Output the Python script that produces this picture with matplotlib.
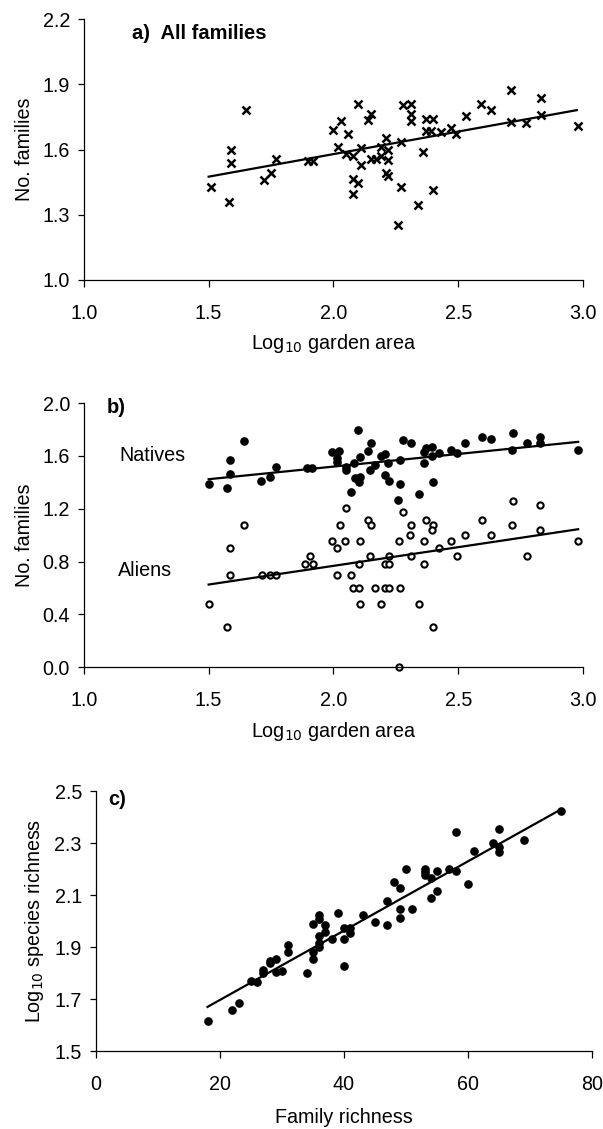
import numpy as np
import matplotlib
matplotlib.use("Agg")
import matplotlib.pyplot as plt
from matplotlib.ticker import FormatStrFormatter

plt.rcParams['font.family'] = ['Liberation Sans', 'DejaVu Sans']

# a) all families vs log10 garden area
area_a = [1.51, 1.58, 1.59, 1.59, 1.65, 1.72, 1.75, 1.77, 1.90, 1.92,
          2.00, 2.03, 2.06, 2.02, 2.05, 2.08, 2.08, 2.08, 2.10, 2.11,
          2.11, 2.10, 2.14, 2.15, 2.15, 2.17, 2.19, 2.19, 2.21, 2.21,
          2.22, 2.22, 2.22, 2.27, 2.27, 2.26, 2.28, 2.31, 2.31, 2.31,
          2.34, 2.36, 2.37, 2.37, 2.39, 2.40, 2.40, 2.43, 2.47, 2.49,
          2.53, 2.59, 2.63, 2.71, 2.71, 2.77, 2.83, 2.83, 2.98]
fam_all = [1.43, 1.36, 1.60, 1.54, 1.78, 1.46, 1.49, 1.555, 1.547, 1.547,
           1.69, 1.73, 1.67, 1.614, 1.58, 1.57, 1.464, 1.397, 1.812, 1.606,
           1.53, 1.445, 1.735, 1.764, 1.555, 1.555, 1.571, 1.614, 1.655, 1.49,
           1.597, 1.553, 1.477, 1.633, 1.43, 1.253, 1.805, 1.812, 1.762, 1.73,
           1.344, 1.589, 1.686, 1.739, 1.686, 1.739, 1.415, 1.682, 1.70, 1.67,
           1.756, 1.812, 1.782, 1.873, 1.726, 1.721, 1.838, 1.758, 1.708]
fit_all = [0.2076, 1.164]   # slope, intercept
fit_range_a = [1.5, 2.975]

# b) natives and aliens
area_nat = [2.10, 1.64, 1.585, 1.585, 1.50, 1.575, 1.71, 1.746, 1.77, 1.893,
            1.913, 1.994, 2.023, 2.014, 2.014, 2.049, 2.049, 2.084, 2.108, 2.139,
            2.152, 2.166, 2.148, 2.192, 2.206, 2.219, 2.206, 2.085, 2.108, 2.101,
            2.222, 2.265, 2.265, 2.279, 2.309, 2.363, 2.363, 2.372, 2.396, 2.394,
            2.423, 2.47, 2.493, 2.525, 2.399, 2.595, 2.632, 2.718, 2.716, 2.776,
            2.826, 2.826, 2.981, 2.072, 2.26, 2.343]
fam_nat = [1.795, 1.715, 1.568, 1.46, 1.386, 1.355, 1.409, 1.44, 1.517, 1.507,
           1.507, 1.626, 1.634, 1.581, 1.555, 1.517, 1.492, 1.543, 1.593, 1.639,
           1.694, 1.53, 1.492, 1.60, 1.614, 1.543, 1.455, 1.43, 1.44, 1.404,
           1.41, 1.568, 1.386, 1.72, 1.694, 1.543, 1.626, 1.657, 1.664, 1.60,
           1.624, 1.644, 1.619, 1.699, 1.404, 1.745, 1.725, 1.775, 1.644, 1.694,
           1.745, 1.694, 1.644, 1.328, 1.265, 1.311]
area_ali = [2.051, 2.025, 1.641, 2.139, 2.152, 2.28, 2.312, 2.305, 2.372, 2.399,
            2.394, 2.718, 2.826, 2.595, 2.716, 2.826, 2.632, 2.525, 2.47, 2.981,
            2.363, 2.262, 2.108, 2.047, 1.994, 2.014, 2.423, 1.585, 1.907, 2.148,
            2.222, 2.309, 2.493, 2.776, 1.886, 1.917, 2.101, 2.206, 2.222, 2.363,
            1.585, 1.712, 1.746, 1.77, 2.014, 2.072, 2.077, 2.101, 2.166, 2.206,
            2.222, 2.265, 1.50, 2.108, 2.192, 2.343, 1.575, 2.399, 2.262]
fam_ali = [1.204, 1.079, 1.079, 1.114, 1.079, 1.176, 1.079, 1.0, 1.114, 1.079,
           1.041, 1.255, 1.230, 1.114, 1.079, 1.041, 1.0, 1.0, 0.954, 0.954,
           0.954, 0.954, 0.954, 0.954, 0.954, 0.903, 0.903, 0.903, 0.845, 0.845,
           0.845, 0.845, 0.845, 0.845, 0.778, 0.778, 0.778, 0.778, 0.778, 0.778,
           0.699, 0.699, 0.699, 0.699, 0.699, 0.699, 0.602, 0.602, 0.602, 0.602,
           0.602, 0.602, 0.477, 0.477, 0.477, 0.477, 0.301, 0.301, 0.0]
fit_nat = [0.191, 1.137]
fit_ali = [0.283, 0.2015]
fit_range_b = [1.5, 2.98]

# c) log10 species richness vs family richness
fam_rich = [75, 58, 65, 64, 65, 65, 69, 61, 60, 50,
            53, 53, 53, 55, 54, 57, 58, 48, 49, 55,
            54, 47, 49, 51, 49, 47, 45, 43, 39, 36,
            36, 35, 37, 37, 36, 38, 40, 41, 41, 40,
            36, 36, 35, 35, 34, 40, 31, 31, 29, 28,
            27, 27, 29, 30, 25, 18, 22, 23, 26, 28]
sp_rich = [2.424, 2.344, 2.354, 2.30, 2.286, 2.267, 2.313, 2.27, 2.144, 2.20,
           2.203, 2.19, 2.177, 2.193, 2.165, 2.20, 2.193, 2.152, 2.129, 2.117,
           2.09, 2.078, 2.049, 2.049, 2.011, 1.986, 1.998, 2.024, 2.03, 2.024,
           2.007, 1.989, 1.986, 1.96, 1.943, 1.93, 1.975, 1.975, 1.956, 1.93,
           1.915, 1.90, 1.883, 1.854, 1.802, 1.826, 1.909, 1.883, 1.855, 1.838,
           1.811, 1.80, 1.805, 1.81, 1.77, 1.615, 1.659, 1.686, 1.768, 1.846]
fit_c = [0.01335, 1.43]
fit_range_c = [18, 74.7]

FS = 14.2
FB = 14.5

fig = plt.figure(figsize=(6.03, 11.29), dpi=100)
ax1 = fig.add_axes([0.139, 0.752, 0.828, 0.231])
ax2 = fig.add_axes([0.139, 0.409, 0.828, 0.234])
ax3 = fig.add_axes([0.159, 0.069, 0.823, 0.230])


def style(ax):
    for s in ['top', 'right']:
        ax.spines[s].set_visible(False)
    for s in ['left', 'bottom']:
        ax.spines[s].set_linewidth(0.9)
    ax.tick_params(axis='x', direction='out', length=5, width=0.9, pad=12, labelsize=FS)
    ax.tick_params(axis='y', direction='out', length=4, width=0.9, pad=6, labelsize=FS)


# panel a
xf = np.array(fit_range_a)
ax1.plot(area_a, fam_all, 'x', color='black', ms=5.8, mew=1.8, clip_on=False)
ax1.plot(xf, fit_all[0] * xf + fit_all[1], color='black', lw=1.6)
ax1.set_xlim(1.0, 3.0)
ax1.set_ylim(1.0, 2.2)
ax1.set_xticks([1.0, 1.5, 2.0, 2.5, 3.0])
ax1.set_yticks([1.0, 1.3, 1.6, 1.9, 2.2])
ax1.xaxis.set_major_formatter(FormatStrFormatter('%.1f'))
ax1.yaxis.set_major_formatter(FormatStrFormatter('%.1f'))
ax1.set_xlabel('Log$_{10}$ garden area', fontsize=FS, labelpad=7)
ax1.set_ylabel('No. families', fontsize=FS, labelpad=6)
ax1.text(0.096, 0.946, 'a)  All families', transform=ax1.transAxes,
         fontsize=FB, fontweight='bold', va='center', ha='left')
style(ax1)

# panel b
xf = np.array(fit_range_b)
ax2.plot(area_nat, fam_nat, 'o', color='black', ms=5.2, clip_on=False)
ax2.plot(area_ali, fam_ali, 'o', mfc='white', mec='black', ms=4.5, mew=1.5, clip_on=False)
ax2.plot(xf, fit_nat[0] * xf + fit_nat[1], color='black', lw=1.6)
ax2.plot(xf, fit_ali[0] * xf + fit_ali[1], color='black', lw=1.6)
ax2.set_xlim(1.0, 3.0)
ax2.set_ylim(0.0, 2.0)
ax2.set_xticks([1.0, 1.5, 2.0, 2.5, 3.0])
ax2.set_yticks([0.0, 0.4, 0.8, 1.2, 1.6, 2.0])
ax2.xaxis.set_major_formatter(FormatStrFormatter('%.1f'))
ax2.yaxis.set_major_formatter(FormatStrFormatter('%.1f'))
ax2.set_xlabel('Log$_{10}$ garden area', fontsize=FS, labelpad=7)
ax2.set_ylabel('No. families', fontsize=FS, labelpad=6)
ax2.text(0.046, 0.983, 'b)', transform=ax2.transAxes,
         fontsize=FB, fontweight='bold', va='center', ha='left')
ax2.text(1.144, 1.606, 'Natives', fontsize=FS, va='center', ha='left')
ax2.text(1.137, 0.729, 'Aliens', fontsize=FS, va='center', ha='left')
style(ax2)

# panel c
xf = np.array(fit_range_c)
ax3.plot(fam_rich, sp_rich, 'o', color='black', ms=5.2, clip_on=False)
ax3.plot(xf, fit_c[0] * xf + fit_c[1], color='black', lw=1.6)
ax3.set_xlim(0, 80)
ax3.set_ylim(1.5, 2.5)
ax3.set_xticks([0, 20, 40, 60, 80])
ax3.set_yticks([1.5, 1.7, 1.9, 2.1, 2.3, 2.5])
ax3.yaxis.set_major_formatter(FormatStrFormatter('%.1f'))
ax3.set_xlabel('Family richness', fontsize=FS, labelpad=10)
ax3.set_ylabel('Log$_{10}$ species richness', fontsize=FS, labelpad=6)
ax3.text(0.024, 0.967, 'c)', transform=ax3.transAxes,
         fontsize=FB, fontweight='bold', va='center', ha='left')
style(ax3)

fig.savefig('out.png', dpi=100)
